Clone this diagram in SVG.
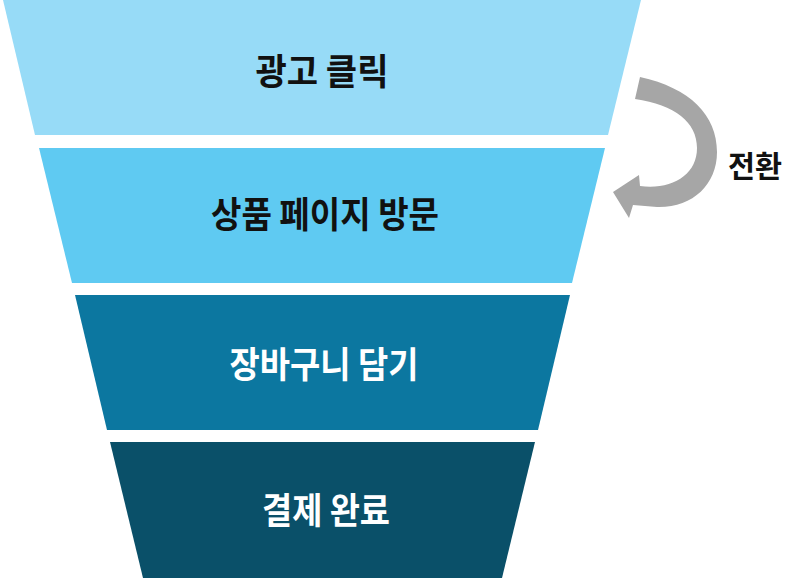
<svg xmlns="http://www.w3.org/2000/svg" width="808" height="578" viewBox="0 0 808 578">
<style>
.lbl{font-family:"Noto Sans CJK KR","Noto Sans",sans-serif;font-weight:700;font-size:36px;text-anchor:middle;dominant-baseline:central}
.dark{fill:#111111}
.light{fill:#ffffff}
</style>
<rect width="808" height="578" fill="#ffffff"/>
<g id="stage1">
<polygon points="3,0 641,0 608,135 35,135" fill="#97dbf7"/>
<text class="lbl dark" x="322" y="69" textLength="133" lengthAdjust="spacingAndGlyphs">광고 클릭</text>
</g>
<g id="stage2">
<polygon points="39,148 605,148 572,283 72,283" fill="#5fcaf2"/>
<text class="lbl dark" x="325" y="212" textLength="228" lengthAdjust="spacingAndGlyphs">상품 페이지 방문</text>
</g>
<g id="stage3">
<polygon points="75,295 570,295 538,430 107,430" fill="#0c77a0"/>
<text class="lbl light" x="324" y="362" textLength="189" lengthAdjust="spacingAndGlyphs">장바구니 담기</text>
</g>
<g id="stage4">
<polygon points="110,442 535,442 502,578 143,578" fill="#0a5069"/>
<text class="lbl light" x="326" y="508" textLength="128" lengthAdjust="spacingAndGlyphs">결제 완료</text>
</g>
<g id="connectors">
<path d="M640,77 C690,88 717,115 717,152 C717,185 692,208 657,207 L633,205 L629,218 L613,192 L639,175 L640,186 C672,190 697,175 697,148 C697,122 675,105 635,99 Z" fill="#a6a6a6"/>
<text x="728" y="164" font-family="Noto Sans CJK KR, Noto Sans, sans-serif" font-weight="700" font-size="30" dominant-baseline="central" fill="#111111" textLength="54" lengthAdjust="spacingAndGlyphs">전환</text>
</g>
</svg>
